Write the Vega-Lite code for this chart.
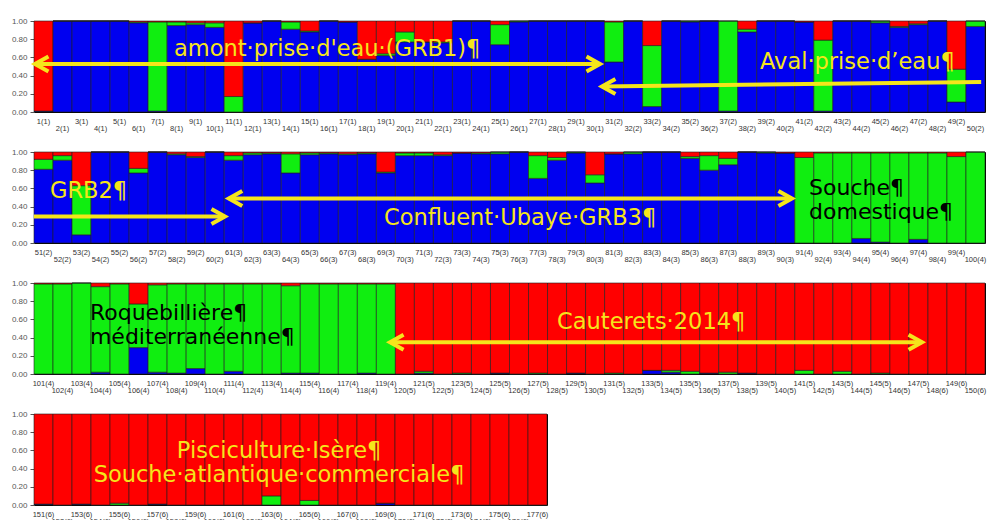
{
  "$schema": "https://vega.github.io/schema/vega-lite/v6.json",
  "background": "white",
  "padding": {"left": 10, "top": 16, "right": 0, "bottom": 0},
  "spacing": 15,
  "config": {
    "font": "Liberation Sans",
    "view": {"stroke": "#000", "strokeWidth": 1},
    "axisX": {
      "title": null, "labelAngle": 0, "labelFontSize": 7.5, "labelColor": "#333",
      "labelOverlap": false, "labelFlush": false, "labelBound": false,
      "domain": false, "tickSize": 3, "tickColor": "#444",
      "tickOpacity": {"condition": {"test": "parseInt(datum.value) % 2 == 0", "value": 1}, "value": 0},
      "labelPadding": {"condition": {"test": "parseInt(datum.value) % 2 == 0", "value": 9}, "value": 2}
    },
    "axisY": {
      "title": null, "format": ".2f", "labelOverlap": false, "labelFlush": false,
      "labelFontSize": 8, "labelColor": "#555", "tickSize": 4, "tickColor": "#555",
      "domain": false, "grid": false, "labelPadding": 3
    }
  },
  "datasets": {
    "ind": [
      {"id":1,"label":"1(1)","b":0.01,"g":0,"r":0.99},
      {"id":2,"label":"2(1)","b":1,"g":0,"r":0},
      {"id":3,"label":"3(1)","b":1,"g":0,"r":0},
      {"id":4,"label":"4(1)","b":1,"g":0,"r":0},
      {"id":5,"label":"5(1)","b":1,"g":0,"r":0},
      {"id":6,"label":"6(1)","b":0.98,"g":0.01,"r":0.01},
      {"id":7,"label":"7(1)","b":0.01,"g":0.98,"r":0.01},
      {"id":8,"label":"8(1)","b":0.95,"g":0.04,"r":0.01},
      {"id":9,"label":"9(1)","b":0.96,"g":0.02,"r":0.02},
      {"id":10,"label":"10(1)","b":0.93,"g":0.05,"r":0.02},
      {"id":11,"label":"11(1)","b":0,"g":0.17,"r":0.83},
      {"id":12,"label":"12(1)","b":0.98,"g":0,"r":0.02},
      {"id":13,"label":"13(1)","b":1,"g":0,"r":0},
      {"id":14,"label":"14(1)","b":0.91,"g":0.08,"r":0.01},
      {"id":15,"label":"15(1)","b":0.88,"g":0.01,"r":0.11},
      {"id":16,"label":"16(1)","b":1,"g":0,"r":0},
      {"id":17,"label":"17(1)","b":0.99,"g":0,"r":0.01},
      {"id":18,"label":"18(1)","b":0.58,"g":0,"r":0.42},
      {"id":19,"label":"19(1)","b":0.62,"g":0.02,"r":0.36},
      {"id":20,"label":"20(1)","b":0.77,"g":0.11,"r":0.12},
      {"id":21,"label":"21(1)","b":0.77,"g":0,"r":0.23},
      {"id":22,"label":"22(1)","b":0.76,"g":0.01,"r":0.23},
      {"id":23,"label":"23(1)","b":1,"g":0,"r":0},
      {"id":24,"label":"24(1)","b":1,"g":0,"r":0},
      {"id":25,"label":"25(1)","b":0.74,"g":0.22,"r":0.04},
      {"id":26,"label":"26(1)","b":0.99,"g":0.01,"r":0},
      {"id":27,"label":"27(1)","b":1,"g":0,"r":0},
      {"id":28,"label":"28(1)","b":1,"g":0,"r":0},
      {"id":29,"label":"29(1)","b":1,"g":0,"r":0},
      {"id":30,"label":"30(1)","b":1,"g":0,"r":0},
      {"id":31,"label":"31(2)","b":0.55,"g":0.44,"r":0.01},
      {"id":32,"label":"32(2)","b":1,"g":0,"r":0},
      {"id":33,"label":"33(2)","b":0.06,"g":0.67,"r":0.27},
      {"id":34,"label":"34(2)","b":1,"g":0,"r":0},
      {"id":35,"label":"35(2)","b":0.99,"g":0.01,"r":0},
      {"id":36,"label":"36(2)","b":1,"g":0,"r":0},
      {"id":37,"label":"37(2)","b":0.01,"g":0.99,"r":0},
      {"id":38,"label":"38(2)","b":0.88,"g":0.03,"r":0.09},
      {"id":39,"label":"39(2)","b":1,"g":0,"r":0},
      {"id":40,"label":"40(2)","b":1,"g":0,"r":0},
      {"id":41,"label":"41(2)","b":0.99,"g":0,"r":0.01},
      {"id":42,"label":"42(2)","b":0.01,"g":0.78,"r":0.21},
      {"id":43,"label":"43(2)","b":1,"g":0,"r":0},
      {"id":44,"label":"44(2)","b":1,"g":0,"r":0},
      {"id":45,"label":"45(2)","b":0.98,"g":0.02,"r":0},
      {"id":46,"label":"46(2)","b":0.93,"g":0.01,"r":0.06},
      {"id":47,"label":"47(2)","b":0.96,"g":0.01,"r":0.03},
      {"id":48,"label":"48(2)","b":1,"g":0,"r":0},
      {"id":49,"label":"49(2)","b":0.11,"g":0.36,"r":0.53},
      {"id":50,"label":"50(2)","b":0.94,"g":0.06,"r":0},
      {"id":51,"label":"51(2)","b":0.81,"g":0.11,"r":0.08},
      {"id":52,"label":"52(2)","b":0.91,"g":0.05,"r":0.04},
      {"id":53,"label":"53(2)","b":0.09,"g":0.54,"r":0.37},
      {"id":54,"label":"54(2)","b":1,"g":0,"r":0},
      {"id":55,"label":"55(2)","b":1,"g":0,"r":0},
      {"id":56,"label":"56(2)","b":0.77,"g":0.05,"r":0.18},
      {"id":57,"label":"57(2)","b":1,"g":0,"r":0},
      {"id":58,"label":"58(2)","b":0.97,"g":0.01,"r":0.02},
      {"id":59,"label":"59(2)","b":0.94,"g":0.01,"r":0.05},
      {"id":60,"label":"60(2)","b":1,"g":0,"r":0},
      {"id":61,"label":"61(3)","b":0.91,"g":0.05,"r":0.04},
      {"id":62,"label":"62(3)","b":0.97,"g":0.02,"r":0.01},
      {"id":63,"label":"63(3)","b":0.98,"g":0.01,"r":0.01},
      {"id":64,"label":"64(3)","b":0.77,"g":0.21,"r":0.02},
      {"id":65,"label":"65(3)","b":0.97,"g":0.02,"r":0.01},
      {"id":66,"label":"66(3)","b":0.98,"g":0.01,"r":0.01},
      {"id":67,"label":"67(3)","b":0.97,"g":0.01,"r":0.02},
      {"id":68,"label":"68(3)","b":0.98,"g":0.01,"r":0.01},
      {"id":69,"label":"69(3)","b":0.77,"g":0.01,"r":0.22},
      {"id":70,"label":"70(3)","b":0.96,"g":0.03,"r":0.01},
      {"id":71,"label":"71(3)","b":0.96,"g":0.03,"r":0.01},
      {"id":72,"label":"72(3)","b":0.96,"g":0.01,"r":0.03},
      {"id":73,"label":"73(3)","b":0.99,"g":0,"r":0.01},
      {"id":74,"label":"74(3)","b":0.98,"g":0.01,"r":0.01},
      {"id":75,"label":"75(3)","b":0.98,"g":0.02,"r":0},
      {"id":76,"label":"76(3)","b":1,"g":0,"r":0},
      {"id":77,"label":"77(3)","b":0.71,"g":0.25,"r":0.04},
      {"id":78,"label":"78(3)","b":0.91,"g":0.03,"r":0.06},
      {"id":79,"label":"79(3)","b":0.99,"g":0.01,"r":0},
      {"id":80,"label":"80(3)","b":0.66,"g":0.09,"r":0.25},
      {"id":81,"label":"81(3)","b":0.98,"g":0,"r":0.02},
      {"id":82,"label":"82(3)","b":0.98,"g":0.02,"r":0},
      {"id":83,"label":"83(3)","b":1,"g":0,"r":0},
      {"id":84,"label":"84(3)","b":1,"g":0,"r":0},
      {"id":85,"label":"85(3)","b":0.93,"g":0.02,"r":0.05},
      {"id":86,"label":"86(3)","b":0.8,"g":0.16,"r":0.04},
      {"id":87,"label":"87(3)","b":0.86,"g":0.07,"r":0.07},
      {"id":88,"label":"88(3)","b":1,"g":0,"r":0},
      {"id":89,"label":"89(3)","b":0.99,"g":0.01,"r":0},
      {"id":90,"label":"90(3)","b":0.99,"g":0,"r":0.01},
      {"id":91,"label":"91(4)","b":0,"g":0.94,"r":0.06},
      {"id":92,"label":"92(4)","b":0,"g":0.99,"r":0.01},
      {"id":93,"label":"93(4)","b":0,"g":0.99,"r":0.01},
      {"id":94,"label":"94(4)","b":0.05,"g":0.94,"r":0.01},
      {"id":95,"label":"95(4)","b":0.01,"g":0.98,"r":0.01},
      {"id":96,"label":"96(4)","b":0,"g":0.99,"r":0.01},
      {"id":97,"label":"97(4)","b":0.04,"g":0.95,"r":0.01},
      {"id":98,"label":"98(4)","b":0,"g":0.99,"r":0.01},
      {"id":99,"label":"99(4)","b":0,"g":0.95,"r":0.05},
      {"id":100,"label":"100(4)","b":0,"g":1,"r":0},
      {"id":101,"label":"101(4)","b":0,"g":0.99,"r":0.01},
      {"id":102,"label":"102(4)","b":0,"g":0.99,"r":0.01},
      {"id":103,"label":"103(4)","b":0,"g":1,"r":0},
      {"id":104,"label":"104(4)","b":0.02,"g":0.94,"r":0.04},
      {"id":105,"label":"105(4)","b":0,"g":0.99,"r":0.01},
      {"id":106,"label":"106(4)","b":0.29,"g":0.48,"r":0.23},
      {"id":107,"label":"107(4)","b":0.02,"g":0.96,"r":0.02},
      {"id":108,"label":"108(4)","b":0.01,"g":0.98,"r":0.01},
      {"id":109,"label":"109(4)","b":0.06,"g":0.93,"r":0.01},
      {"id":110,"label":"110(4)","b":0,"g":0.99,"r":0.01},
      {"id":111,"label":"111(4)","b":0.03,"g":0.96,"r":0.01},
      {"id":112,"label":"112(4)","b":0,"g":0.99,"r":0.01},
      {"id":113,"label":"113(4)","b":0,"g":0.99,"r":0.01},
      {"id":114,"label":"114(4)","b":0.01,"g":0.96,"r":0.03},
      {"id":115,"label":"115(4)","b":0.01,"g":0.98,"r":0.01},
      {"id":116,"label":"116(4)","b":0,"g":0.99,"r":0.01},
      {"id":117,"label":"117(4)","b":0,"g":0.99,"r":0.01},
      {"id":118,"label":"118(4)","b":0.01,"g":0.98,"r":0.01},
      {"id":119,"label":"119(4)","b":0,"g":0.99,"r":0.01},
      {"id":120,"label":"120(5)","b":0,"g":0,"r":1},
      {"id":121,"label":"121(5)","b":0.01,"g":0.02,"r":0.97},
      {"id":122,"label":"122(5)","b":0,"g":0,"r":1},
      {"id":123,"label":"123(5)","b":0,"g":0.01,"r":0.99},
      {"id":124,"label":"124(5)","b":0,"g":0,"r":1},
      {"id":125,"label":"125(5)","b":0.01,"g":0,"r":0.99},
      {"id":126,"label":"126(5)","b":0,"g":0,"r":1},
      {"id":127,"label":"127(5)","b":0,"g":0.01,"r":0.99},
      {"id":128,"label":"128(5)","b":0,"g":0,"r":1},
      {"id":129,"label":"129(5)","b":0.01,"g":0,"r":0.99},
      {"id":130,"label":"130(5)","b":0,"g":0,"r":1},
      {"id":131,"label":"131(5)","b":0,"g":0.01,"r":0.99},
      {"id":132,"label":"132(5)","b":0,"g":0,"r":1},
      {"id":133,"label":"133(5)","b":0.04,"g":0,"r":0.96},
      {"id":134,"label":"134(5)","b":0.02,"g":0.02,"r":0.96},
      {"id":135,"label":"135(5)","b":0,"g":0.03,"r":0.97},
      {"id":136,"label":"136(5)","b":0.01,"g":0,"r":0.99},
      {"id":137,"label":"137(5)","b":0,"g":0.02,"r":0.98},
      {"id":138,"label":"138(5)","b":0.01,"g":0,"r":0.99},
      {"id":139,"label":"139(5)","b":0,"g":0,"r":1},
      {"id":140,"label":"140(5)","b":0,"g":0,"r":1},
      {"id":141,"label":"141(5)","b":0,"g":0.04,"r":0.96},
      {"id":142,"label":"142(5)","b":0,"g":0,"r":1},
      {"id":143,"label":"143(5)","b":0,"g":0.03,"r":0.97},
      {"id":144,"label":"144(5)","b":0,"g":0,"r":1},
      {"id":145,"label":"145(5)","b":0,"g":0.01,"r":0.99},
      {"id":146,"label":"146(5)","b":0,"g":0,"r":1},
      {"id":147,"label":"147(5)","b":0,"g":0,"r":1},
      {"id":148,"label":"148(6)","b":0,"g":0,"r":1},
      {"id":149,"label":"149(6)","b":0,"g":0,"r":1},
      {"id":150,"label":"150(6)","b":0,"g":0,"r":1},
      {"id":151,"label":"151(6)","b":0.01,"g":0,"r":0.99},
      {"id":152,"label":"152(6)","b":0,"g":0,"r":1},
      {"id":153,"label":"153(6)","b":0.01,"g":0,"r":0.99},
      {"id":154,"label":"154(6)","b":0,"g":0,"r":1},
      {"id":155,"label":"155(6)","b":0,"g":0.02,"r":0.98},
      {"id":156,"label":"156(6)","b":0,"g":0,"r":1},
      {"id":157,"label":"157(6)","b":0.01,"g":0,"r":0.99},
      {"id":158,"label":"158(6)","b":0,"g":0,"r":1},
      {"id":159,"label":"159(6)","b":0,"g":0,"r":1},
      {"id":160,"label":"160(6)","b":0,"g":0,"r":1},
      {"id":161,"label":"161(6)","b":0,"g":0,"r":1},
      {"id":162,"label":"162(6)","b":0,"g":0,"r":1},
      {"id":163,"label":"163(6)","b":0,"g":0.1,"r":0.9},
      {"id":164,"label":"164(6)","b":0,"g":0,"r":1},
      {"id":165,"label":"165(6)","b":0,"g":0.05,"r":0.95},
      {"id":166,"label":"166(6)","b":0,"g":0,"r":1},
      {"id":167,"label":"167(6)","b":0,"g":0,"r":1},
      {"id":168,"label":"168(6)","b":0,"g":0,"r":1},
      {"id":169,"label":"169(6)","b":0.02,"g":0,"r":0.98},
      {"id":170,"label":"170(6)","b":0,"g":0,"r":1},
      {"id":171,"label":"171(6)","b":0,"g":0,"r":1},
      {"id":172,"label":"172(6)","b":0,"g":0,"r":1},
      {"id":173,"label":"173(6)","b":0,"g":0,"r":1},
      {"id":174,"label":"174(6)","b":0,"g":0,"r":1},
      {"id":175,"label":"175(6)","b":0,"g":0,"r":1},
      {"id":176,"label":"176(6)","b":0,"g":0,"r":1},
      {"id":177,"label":"177(6)","b":0,"g":0,"r":1}
    ]
  },
  "vconcat": [
    {
      "width": 951, "height": 91,
      "resolve": {"scale": {"x": "independent"}, "axis": {"y": "independent"}},
      "layer": [
        {
          "data": {"name": "ind"},
          "transform": [{"filter": "datum.id <= 50"}, {"fold": ["b", "g", "r"], "as": ["k", "q"]}],
          "mark": {"type": "bar", "stroke": "#1e1e1e", "strokeWidth": 0.6},
          "encoding": {
            "x": {"field": "label", "type": "ordinal", "sort": {"field": "id", "op": "min", "order": "ascending"}, "scale": {"paddingInner": 0, "paddingOuter": 0}},
            "y": {"field": "q", "type": "quantitative", "stack": "zero", "scale": {"domain": [0, 1], "nice": false}, "axis": {"values": [0, 0.2, 0.4, 0.6, 0.8, 1]}},
            "color": {"field": "k", "type": "nominal", "scale": {"domain": ["b", "g", "r"], "range": ["#0000f0", "#10ee10", "#ff0000"]}, "legend": null},
            "order": {"field": "k", "type": "ordinal", "sort": "ascending"}
          }
        },
        {
          "data": {"values": [
            {"xa": 0.55, "ya": 0.527, "xb": 30.26, "yb": 0.527},
            {"xa": 30.36, "ya": 0.28, "xb": 50.3, "yb": 0.33}
          ]},
          "mark": {"type": "rule", "color": "#f5e51b", "strokeWidth": 4},
          "encoding": {
            "x": {"field": "xa", "type": "quantitative", "scale": {"domain": [0.5, 50.5], "nice": false, "zero": false}, "axis": null},
            "y": {"field": "ya", "type": "quantitative", "axis": null},
            "x2": {"field": "xb"}, "y2": {"field": "yb"}
          }
        },
        {
          "data": {"values": [
            {"x": 0.55, "y": 0.527, "dir": "l"},
            {"x": 30.26, "y": 0.527, "dir": "r"},
            {"x": 30.36, "y": 0.28, "dir": "l"}
          ]},
          "mark": {"type": "point", "filled": false, "stroke": "#f5e51b", "strokeWidth": 4, "size": 225, "opacity": 1},
          "encoding": {
            "x": {"field": "x", "type": "quantitative", "scale": {"domain": [0.5, 50.5], "nice": false, "zero": false}, "axis": null},
            "y": {"field": "y", "type": "quantitative", "axis": null},
            "shape": {"field": "dir", "type": "nominal", "scale": {"domain": ["l", "r"], "range": ["M1.8,-1L0,0L1.8,1", "M-1.8,-1L0,0L-1.8,1"]}, "legend": null}
          }
        },
        {
          "data": {"values": [
            {"x": 7.86, "y": 0.61, "t": "amont·prise·d'eau·(GRB1)¶"},
            {"x": 38.67, "y": 0.47, "t": "Aval·prise·d’eau¶"}
          ]},
          "mark": {"type": "text", "font": "DejaVu Sans", "fontSize": 22.5, "align": "left", "baseline": "alphabetic", "color": "#f5e51b"},
          "encoding": {
            "x": {"field": "x", "type": "quantitative", "scale": {"domain": [0.5, 50.5], "nice": false, "zero": false}, "axis": null},
            "y": {"field": "y", "type": "quantitative", "axis": null},
            "text": {"field": "t"}
          }
        }
      ]
    },
    {
      "width": 951, "height": 91,
      "resolve": {"scale": {"x": "independent"}, "axis": {"y": "independent"}},
      "layer": [
        {
          "data": {"name": "ind"},
          "transform": [{"filter": "datum.id > 50 && datum.id <= 100"}, {"fold": ["b", "g", "r"], "as": ["k", "q"]}],
          "mark": {"type": "bar", "stroke": "#1e1e1e", "strokeWidth": 0.6},
          "encoding": {
            "x": {"field": "label", "type": "ordinal", "sort": {"field": "id", "op": "min", "order": "ascending"}, "scale": {"paddingInner": 0, "paddingOuter": 0}},
            "y": {"field": "q", "type": "quantitative", "stack": "zero", "scale": {"domain": [0, 1], "nice": false}, "axis": {"values": [0, 0.2, 0.4, 0.6, 0.8, 1]}},
            "color": {"field": "k", "type": "nominal", "scale": {"domain": ["b", "g", "r"], "range": ["#0000f0", "#10ee10", "#ff0000"]}, "legend": null},
            "order": {"field": "k", "type": "ordinal", "sort": "ascending"}
          }
        },
        {
          "data": {"values": [
            {"xa": 50.5, "ya": 0.29, "xb": 60.54, "yb": 0.29},
            {"xa": 60.74, "ya": 0.49, "xb": 90.35, "yb": 0.49}
          ]},
          "mark": {"type": "rule", "color": "#f5e51b", "strokeWidth": 4},
          "encoding": {
            "x": {"field": "xa", "type": "quantitative", "scale": {"domain": [50.5, 100.5], "nice": false, "zero": false}, "axis": null},
            "y": {"field": "ya", "type": "quantitative", "axis": null},
            "x2": {"field": "xb"}, "y2": {"field": "yb"}
          }
        },
        {
          "data": {"values": [
            {"x": 60.54, "y": 0.29, "dir": "r"},
            {"x": 60.74, "y": 0.49, "dir": "l"},
            {"x": 90.35, "y": 0.49, "dir": "r"}
          ]},
          "mark": {"type": "point", "filled": false, "stroke": "#f5e51b", "strokeWidth": 4, "size": 225, "opacity": 1},
          "encoding": {
            "x": {"field": "x", "type": "quantitative", "scale": {"domain": [50.5, 100.5], "nice": false, "zero": false}, "axis": null},
            "y": {"field": "y", "type": "quantitative", "axis": null},
            "shape": {"field": "dir", "type": "nominal", "scale": {"domain": ["l", "r"], "range": ["M1.8,-1L0,0L1.8,1", "M-1.8,-1L0,0L-1.8,1"]}, "legend": null}
          }
        },
        {
          "data": {"values": [
            {"x": 51.34, "y": 0.5, "t": "GRB2¶"},
            {"x": 68.9, "y": 0.2, "t": "Confluent·Ubaye·GRB3¶"}
          ]},
          "mark": {"type": "text", "font": "DejaVu Sans", "fontSize": 22.5, "align": "left", "baseline": "alphabetic", "color": "#f5e51b"},
          "encoding": {
            "x": {"field": "x", "type": "quantitative", "scale": {"domain": [50.5, 100.5], "nice": false, "zero": false}, "axis": null},
            "y": {"field": "y", "type": "quantitative", "axis": null},
            "text": {"field": "t"}
          }
        },
        {
          "data": {"values": [
            {"x": 91.25, "y": 0.53, "t": ["Souche¶", "domestique¶"]}
          ]},
          "mark": {"type": "text", "font": "DejaVu Sans", "fontSize": 22, "align": "left", "baseline": "alphabetic", "lineHeight": 24, "color": "#000"},
          "encoding": {
            "x": {"field": "x", "type": "quantitative", "scale": {"domain": [50.5, 100.5], "nice": false, "zero": false}, "axis": null},
            "y": {"field": "y", "type": "quantitative", "axis": null},
            "text": {"field": "t"}
          }
        }
      ]
    },
    {
      "width": 951, "height": 91,
      "resolve": {"scale": {"x": "independent"}, "axis": {"y": "independent"}},
      "layer": [
        {
          "data": {"name": "ind"},
          "transform": [{"filter": "datum.id > 100 && datum.id <= 150"}, {"fold": ["b", "g", "r"], "as": ["k", "q"]}],
          "mark": {"type": "bar", "stroke": "#1e1e1e", "strokeWidth": 0.6},
          "encoding": {
            "x": {"field": "label", "type": "ordinal", "sort": {"field": "id", "op": "min", "order": "ascending"}, "scale": {"paddingInner": 0, "paddingOuter": 0}},
            "y": {"field": "q", "type": "quantitative", "stack": "zero", "scale": {"domain": [0, 1], "nice": false}, "axis": {"values": [0, 0.2, 0.4, 0.6, 0.8, 1]}},
            "color": {"field": "k", "type": "nominal", "scale": {"domain": ["b", "g", "r"], "range": ["#0000f0", "#10ee10", "#ff0000"]}, "legend": null},
            "order": {"field": "k", "type": "ordinal", "sort": "ascending"}
          }
        },
        {
          "data": {"values": [
            {"xa": 119.22, "ya": 0.35, "xb": 147.19, "yb": 0.35}
          ]},
          "mark": {"type": "rule", "color": "#f5e51b", "strokeWidth": 4},
          "encoding": {
            "x": {"field": "xa", "type": "quantitative", "scale": {"domain": [100.5, 150.5], "nice": false, "zero": false}, "axis": null},
            "y": {"field": "ya", "type": "quantitative", "axis": null},
            "x2": {"field": "xb"}, "y2": {"field": "yb"}
          }
        },
        {
          "data": {"values": [
            {"x": 119.22, "y": 0.35, "dir": "l"},
            {"x": 147.19, "y": 0.35, "dir": "r"}
          ]},
          "mark": {"type": "point", "filled": false, "stroke": "#f5e51b", "strokeWidth": 4, "size": 225, "opacity": 1},
          "encoding": {
            "x": {"field": "x", "type": "quantitative", "scale": {"domain": [100.5, 150.5], "nice": false, "zero": false}, "axis": null},
            "y": {"field": "y", "type": "quantitative", "axis": null},
            "shape": {"field": "dir", "type": "nominal", "scale": {"domain": ["l", "r"], "range": ["M1.8,-1L0,0L1.8,1", "M-1.8,-1L0,0L-1.8,1"]}, "legend": null}
          }
        },
        {
          "data": {"values": [
            {"x": 128.0, "y": 0.49, "t": "Cauterets·2014¶"}
          ]},
          "mark": {"type": "text", "font": "DejaVu Sans", "fontSize": 22.5, "align": "left", "baseline": "alphabetic", "color": "#f5e51b"},
          "encoding": {
            "x": {"field": "x", "type": "quantitative", "scale": {"domain": [100.5, 150.5], "nice": false, "zero": false}, "axis": null},
            "y": {"field": "y", "type": "quantitative", "axis": null},
            "text": {"field": "t"}
          }
        },
        {
          "data": {"values": [
            {"x": 103.44, "y": 0.59, "t": ["Roquebillière¶", "méditerranéenne¶"]}
          ]},
          "mark": {"type": "text", "font": "DejaVu Sans", "fontSize": 22, "align": "left", "baseline": "alphabetic", "lineHeight": 24, "color": "#000"},
          "encoding": {
            "x": {"field": "x", "type": "quantitative", "scale": {"domain": [100.5, 150.5], "nice": false, "zero": false}, "axis": null},
            "y": {"field": "y", "type": "quantitative", "axis": null},
            "text": {"field": "t"}
          }
        }
      ]
    },
    {
      "width": 513, "height": 91,
      "resolve": {"scale": {"x": "independent"}, "axis": {"y": "independent"}},
      "layer": [
        {
          "data": {"name": "ind"},
          "transform": [{"filter": "datum.id > 150"}, {"fold": ["b", "g", "r"], "as": ["k", "q"]}],
          "mark": {"type": "bar", "stroke": "#1e1e1e", "strokeWidth": 0.6},
          "encoding": {
            "x": {"field": "label", "type": "ordinal", "sort": {"field": "id", "op": "min", "order": "ascending"}, "scale": {"paddingInner": 0, "paddingOuter": 0}},
            "y": {"field": "q", "type": "quantitative", "stack": "zero", "scale": {"domain": [0, 1], "nice": false}, "axis": {"values": [0, 0.2, 0.4, 0.6, 0.8, 1]}},
            "color": {"field": "k", "type": "nominal", "scale": {"domain": ["b", "g", "r"], "range": ["#0000f0", "#10ee10", "#ff0000"]}, "legend": null},
            "order": {"field": "k", "type": "ordinal", "sort": "ascending"}
          }
        },
        {
          "data": {"values": [
            {"x": 163.4, "y": 0.52, "t": ["Pisciculture·Isère¶", "Souche·atlantique·commerciale¶"]}
          ]},
          "mark": {"type": "text", "font": "DejaVu Sans", "fontSize": 22.5, "align": "center", "baseline": "alphabetic", "lineHeight": 24, "color": "#f5e51b"},
          "encoding": {
            "x": {"field": "x", "type": "quantitative", "scale": {"domain": [150.5, 177.5], "nice": false, "zero": false}, "axis": null},
            "y": {"field": "y", "type": "quantitative", "axis": null},
            "text": {"field": "t"}
          }
        }
      ]
    }
  ]
}
